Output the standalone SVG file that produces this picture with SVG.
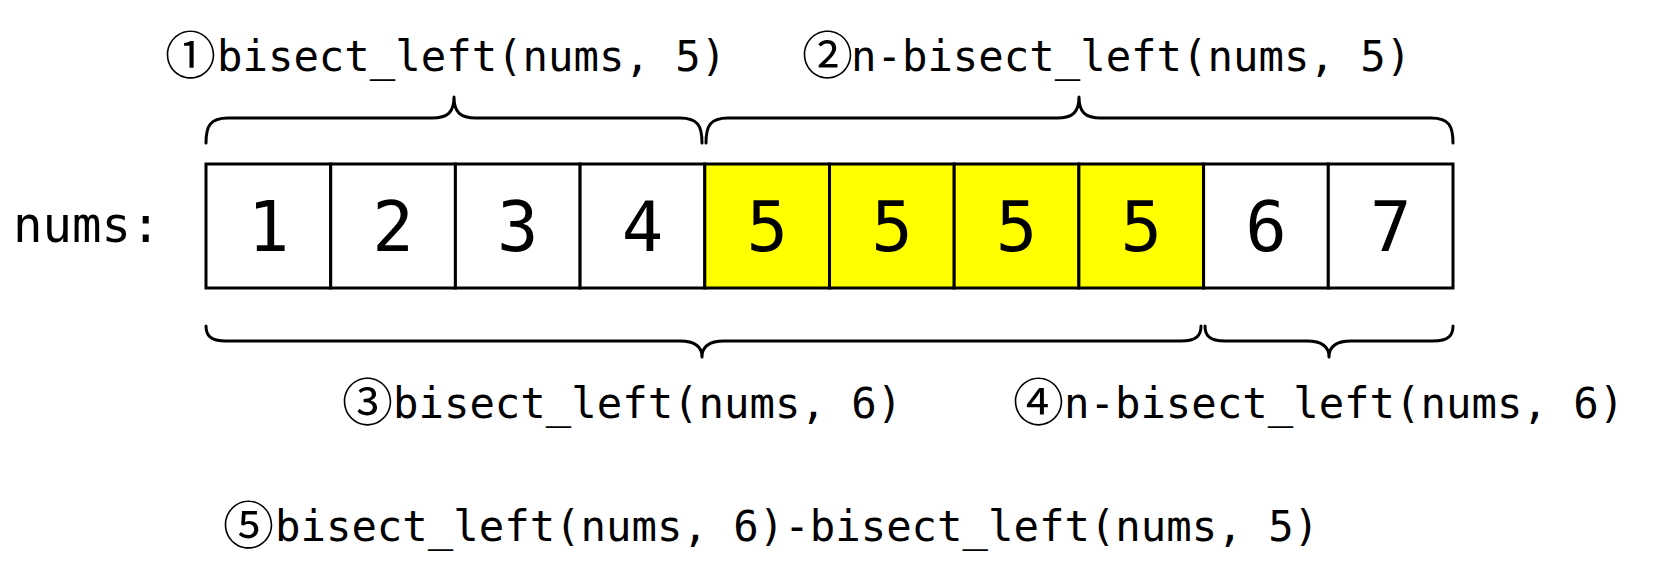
<svg xmlns="http://www.w3.org/2000/svg" width="1658" height="588" viewBox="0 0 1658 588">
<style>
.cell{stroke:#000;stroke-width:3}
.w{fill:#fff}
.y{fill:#ffff00}
.num{font-family:"DejaVu Sans Mono",monospace;font-size:69px;text-anchor:middle;fill:#000}
.lbl{font-family:"DejaVu Sans Mono",monospace;font-size:42.3px;fill:#000}
.circ{font-family:"Noto Sans CJK JP","Noto Sans CJK SC",sans-serif;font-size:51px}
.brace{fill:none;stroke:#000;stroke-width:3;stroke-linecap:round;stroke-linejoin:round}
</style>
<rect width="1658" height="588" fill="#fff"/>
<g id="nums-label"><text class="lbl" x="13" y="242" style="font-size:49px">nums:</text></g>
<g id="array">
<g id="c0"><rect class="cell w" x="206" y="164" width="124.7" height="124"/><text class="num" x="268.4" y="251">1</text></g>
<g id="c1"><rect class="cell w" x="330.7" y="164" width="124.7" height="124"/><text class="num" x="393" y="251">2</text></g>
<g id="c2"><rect class="cell w" x="455.4" y="164" width="124.7" height="124"/><text class="num" x="517.8" y="251">3</text></g>
<g id="c3"><rect class="cell w" x="580.1" y="164" width="124.7" height="124"/><text class="num" x="642.5" y="251">4</text></g>
<g id="c4"><rect class="cell y" x="704.8" y="164" width="124.7" height="124"/><text class="num" x="767.2" y="251">5</text></g>
<g id="c5"><rect class="cell y" x="829.5" y="164" width="124.7" height="124"/><text class="num" x="891.9" y="251">5</text></g>
<g id="c6"><rect class="cell y" x="954.2" y="164" width="124.7" height="124"/><text class="num" x="1016.6" y="251">5</text></g>
<g id="c7"><rect class="cell y" x="1078.9" y="164" width="124.7" height="124"/><text class="num" x="1141.3" y="251">5</text></g>
<g id="c8"><rect class="cell w" x="1203.6" y="164" width="124.7" height="124"/><text class="num" x="1266" y="251">6</text></g>
<g id="c9"><rect class="cell w" x="1328.3" y="164" width="124.7" height="124"/><text class="num" x="1390.7" y="251">7</text></g>
</g>
<g id="connectors">
<path class="brace" d="M206,143 C206,126 210,118 228,118 L432,118 C448,118 454,112 454,97 C454,112 460,118 476,118 L680,118 C698,118 702,126 702,143"/>
<path class="brace" d="M706,143 C706,126 710,118 728,118 L1057,118 C1073,118 1079,112 1079,97 C1079,112 1085,118 1101,118 L1431,118 C1449,118 1453,126 1453,143"/>
<path class="brace" d="M206,326 C206,335 210,341 226,341 L680,341 C696,341 702,347 702,357 C702,347 708,341 724,341 L1181,341 C1197,341 1201,335 1201,326"/>
<path class="brace" d="M1205,326 C1205,335 1209,341 1225,341 L1307,341 C1323,341 1329,347 1329,357 C1329,347 1335,341 1351,341 L1433,341 C1449,341 1453,335 1453,326"/>
</g>
<g id="label1"><text class="lbl" x="165" y="71"><tspan class="circ" dy="3">①</tspan><tspan x="217" dy="-3">bisect_left(nums, 5)</tspan></text></g>
<g id="label2"><text class="lbl" x="802" y="71"><tspan class="circ" dy="3">②</tspan><tspan x="851" dy="-3">n-bisect_left(nums, 5)</tspan></text></g>
<g id="label3"><text class="lbl" x="342" y="418"><tspan class="circ" dy="3">③</tspan><tspan x="393" dy="-3">bisect_left(nums, 6)</tspan></text></g>
<g id="label4"><text class="lbl" x="1013" y="418"><tspan class="circ" dy="3">④</tspan><tspan x="1064" dy="-3">n-bisect_left(nums, 6)</tspan></text></g>
<g id="label5"><text class="lbl" x="223" y="541"><tspan class="circ" dy="3">⑤</tspan><tspan x="275" dy="-3">bisect_left(nums, 6)-bisect_left(nums, 5)</tspan></text></g>
</svg>
